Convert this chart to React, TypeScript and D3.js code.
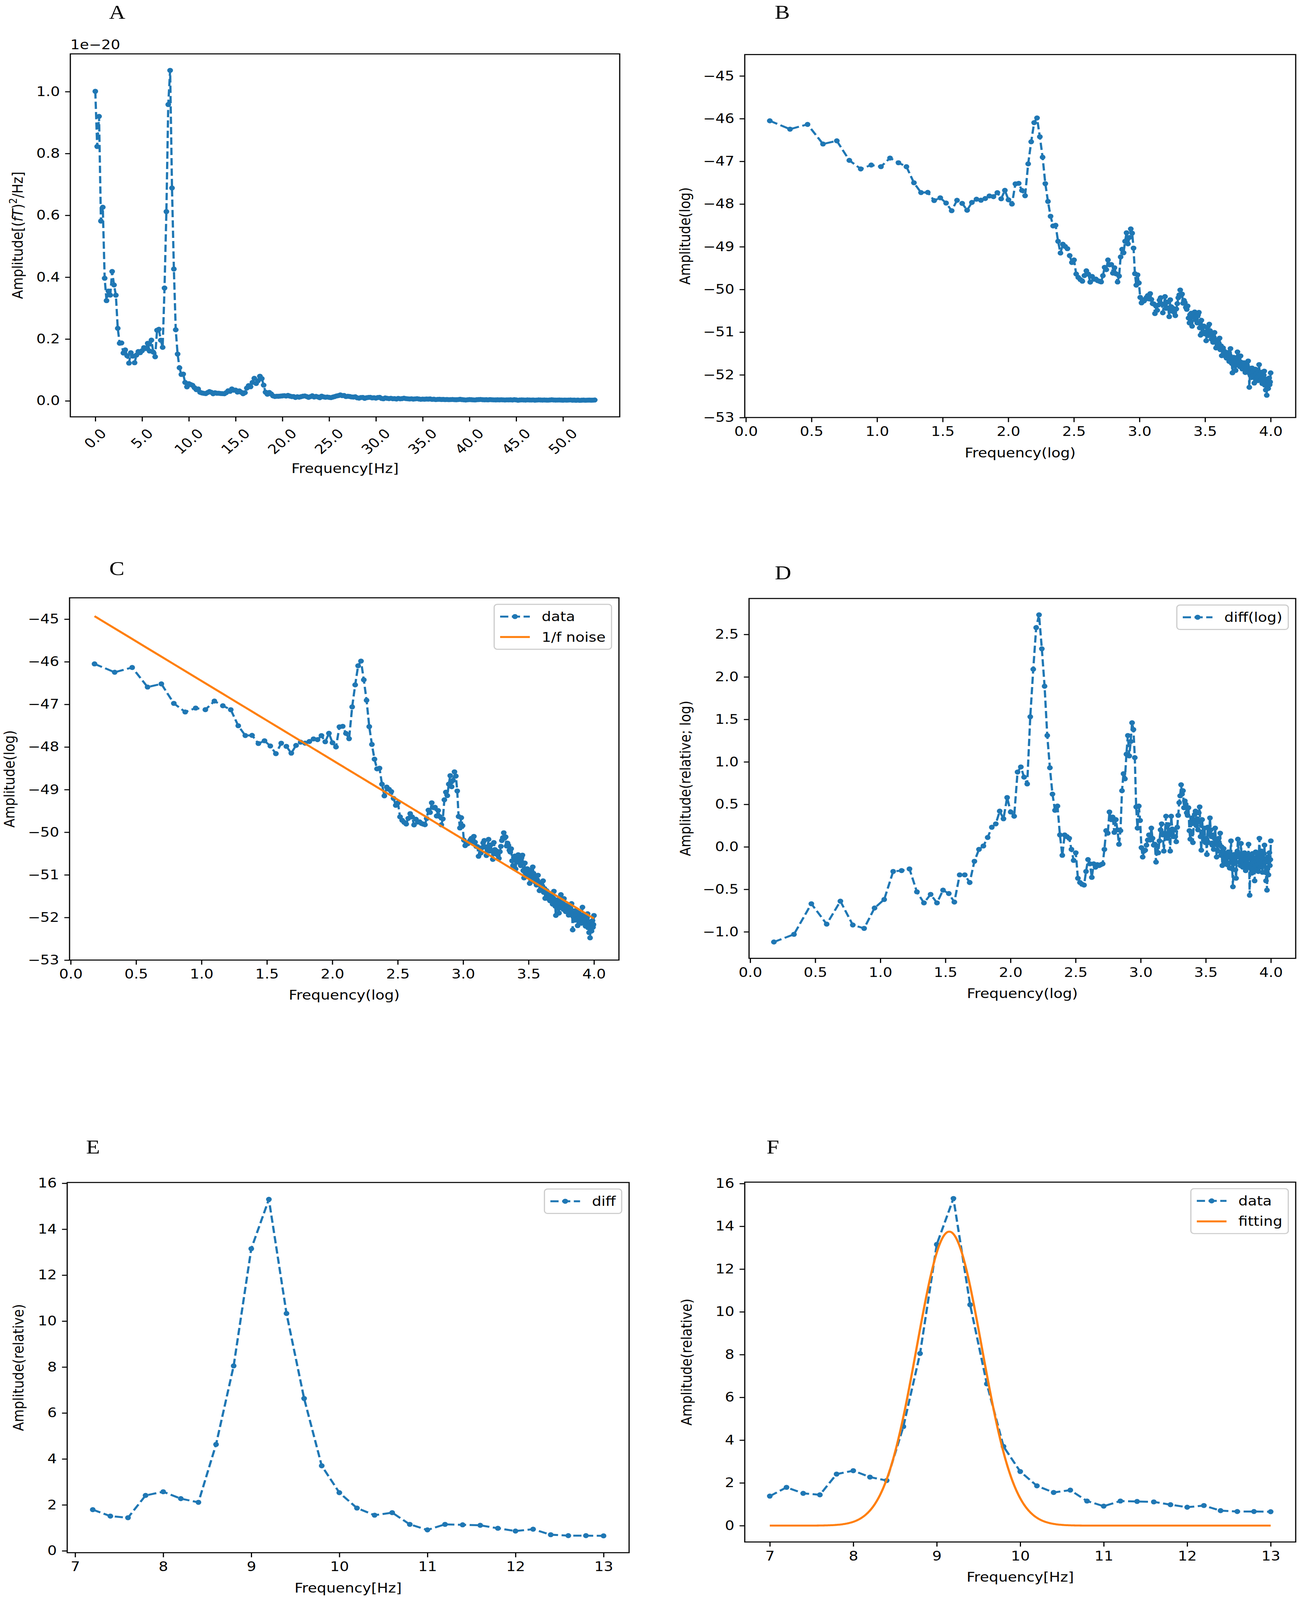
import * as React from "react";
import * as d3 from "d3";

const BLUE = "#1f77b4";
const ORANGE = "#ff7f0e";
const FONT = "'DejaVu Sans', sans-serif";
const FS = 38;
const TICK_LEN = 13.3;
const TICK_PAD = 13.3;
const LINE_W = 5.7;
const MARK_R = 7.3;
const DASH = "21,9";
const W = 3327;
const H = 4633;

// spectrum bins: 0.2 Hz apart, first bin at 1.2 Hz
const FREQ_START = 1.2;
const FREQ_STEP = 0.2;

// panel D: log spectrum minus the 1/f fit, one value per bin (1.2 .. 54.6 Hz)
const diffLog = [
  -1.12, -1.03, -0.67, -0.91, -0.64, -0.92, -0.96, -0.72, -0.62, -0.29,
  -0.28, -0.26, -0.53, -0.66, -0.56, -0.66, -0.51, -0.55, -0.65, -0.33,
  -0.33, -0.42, -0.17, -0.03, 0.01, 0.11, 0.23, 0.27, 0.42, 0.33,
  0.58, 0.41, 0.36, 0.88, 0.94, 0.82, 0.74, 1.53, 2.09, 2.58,
  2.73, 2.33, 1.89, 1.31, 0.93, 0.62, 0.43, 0.48, 0.14, -0.1,
  0.14, 0.12, 0.1, -0.03, -0.16, -0.07, -0.37, -0.42, -0.44, -0.45,
  -0.29, -0.15, -0.2, -0.36, -0.2, -0.24, -0.21, -0.22, -0.21, -0.2,
  -0.03, 0.19, 0.16, 0.41, 0.32, 0.35, 0.17, 0.32, 0.2, 0.03,
  0.19, 0.66, 0.86, 0.8, 1.09, 1.31, 1.07, 1.24, 1.46, 1.38,
  1.05, 0.47, 0.22, 0.48, 0.31, -0.01, -0.12, -0.05, -0.04, 0.02,
  0.08, 0.14, 0.08, 0.22, 0.1, 0.02, 0.03, -0.18, 0.01, -0.07,
  0.07, 0.2, 0.27, 0.14, -0.05, 0.16, 0.36, 0.1, 0.26, 0.14,
  -0.05, 0.36, 0.21, 0.12, 0.2, 0.12, 0.06, 0.23, 0.37, 0.52,
  0.6, 0.73, 0.62, 0.66, 0.46, 0.54, 0.5, 0.4, 0.37, 0.46,
  0.19, 0.09, 0.3, 0.34, 0.05, 0.28, 0.38, 0.42, 0.25, 0.33,
  0.2, 0.4, 0.47, 0.12, -0.04, 0.32, 0.18, 0.08, 0.22, 0.05,
  0.1, -0.09, 0.23, 0.05, 0.15, 0.34, 0.2, 0.12, 0.02, 0.14,
  -0.03, 0.1, 0.22, 0.06, -0.12, 0.02, -0.05, 0.1, 0.03, 0.16,
  -0.1, 0.0, -0.22, -0.05, -0.02, -0.15, -0.08, -0.18, -0.1, -0.21,
  -0.12, -0.06, -0.19, -0.25, -0.1, 0.07, -0.14, -0.26, -0.47, -0.2,
  -0.09, -0.16, -0.27, -0.37, -0.12, -0.05, 0.09, -0.08, -0.18, -0.11,
  -0.22, 0.04, -0.1, -0.17, -0.24, -0.13, -0.21, -0.07, -0.15, -0.28,
  -0.12, -0.19, -0.09, -0.23, 0.03, -0.14, -0.57, -0.25, -0.11, -0.2,
  -0.31, -0.08, -0.18, -0.26, -0.13, -0.4, -0.22, -0.06, -0.17, -0.27,
  -0.14, -0.21, -0.29, -0.09, 0.1, -0.12, -0.24, -0.16, -0.05, -0.2,
  -0.3, -0.13, -0.22, -0.08, 0.02, -0.3, -0.18, -0.4, -0.14, -0.51,
  -0.26, -0.12, -0.33, -0.17, -0.07, -0.22, -0.15, 0.07,
];

// 1/f noise line in log-log space: intercept + slope * ln f
const NOISE_INTERCEPT = -44.592;
const NOISE_SLOPE = -1.858;

// panels E/F: relative amplitude around the alpha peak
const peakFreq = [
  7.0, 7.2, 7.4, 7.6, 7.8, 8.0, 8.2, 8.4, 8.6, 8.8, 9.0, 9.2, 9.4, 9.6, 9.8, 10.0,
  10.2, 10.4, 10.6, 10.8, 11.0, 11.2, 11.4, 11.6, 11.8, 12.0, 12.2, 12.4, 12.6, 12.8, 13.0,
];
const peakDiff = [
  1.38, 1.79, 1.51, 1.44, 2.41, 2.57, 2.27, 2.11, 4.63, 8.05, 13.15, 15.3, 10.33, 6.63, 3.7, 2.53,
  1.86, 1.55, 1.66, 1.15, 0.91, 1.15, 1.13, 1.11, 0.98, 0.86, 0.94, 0.7, 0.66, 0.66, 0.65,
];

// gaussian fit of panel F
const FIT_AMP = 13.75;
const FIT_MU = 9.15;
const FIT_SIGMA = 0.39;

// tick values
const ampTicks = [0, 0.2, 0.4, 0.6, 0.8, 1.0];
const hzTicksA = [0, 5, 10, 15, 20, 25, 30, 35, 40, 45, 50];
const logFreqTicks = [0, 0.5, 1, 1.5, 2, 2.5, 3, 3.5, 4];
const logAmpTicks = [-53, -52, -51, -50, -49, -48, -47, -46, -45];
const diffLogTicks = [-1, -0.5, 0, 0.5, 1, 1.5, 2, 2.5];
const peakHzTicks = [7, 8, 9, 10, 11, 12, 13];
const relTicks = [0, 2, 4, 6, 8, 10, 12, 14, 16];

// derived series
const spectrumFreq = diffLog.map((_, i) => Math.round((FREQ_START + i * FREQ_STEP) * 10) / 10);
const logFreq = spectrumFreq.map((f) => Math.log(f));
const noiseLog = logFreq.map((v) => NOISE_INTERCEPT + NOISE_SLOPE * v);
const logAmp = diffLog.map((d, i) => d + noiseLog[i]);
const ampScaled = logAmp.map((v) => Math.exp(v + 20 * Math.LN10)); // in units of 1e-20
const ampX = spectrumFreq.map((f) => Math.round((f - FREQ_START) * 10) / 10);
const fitX = d3.range(0, 601).map((i) => 7 + i * 0.01);
const fitY = fitX.map((v) => FIT_AMP * Math.exp(-((v - FIT_MU) ** 2) / (2 * FIT_SIGMA ** 2)));

const pad = (ext: number[], m = 0.05) => {
  const r = ext[1] - ext[0];
  return [ext[0] - r * m, ext[1] + r * m];
};

const f1 = d3.format(".1f");
const f0 = d3.format("d");

const dataSeries = (xs, ys, label?) => ({ xs, ys, color: BLUE, dashed: true, marker: true, label });

const panels = [
  {
    letter: "A", lx: 300, ly: 54,
    left: 180, right: 1586, top: 156, bottom: 1207,
    xDomain: pad(d3.extent(ampX) as number[]), yDomain: pad(d3.extent(ampScaled) as number[]),
    xTicks: hzTicksA, xFmt: f1, yTicks: ampTicks, yFmt: f1, rotateX: true,
    xLabel: "Frequency[Hz]", xLabelY: 1370, yLabel: "amp", yLabelX: 58,
    offsetText: "1e\u221220",
    series: [dataSeries(ampX, ampScaled)], legend: false,
  },
  {
    letter: "B", lx: 2002, ly: 54,
    left: 1906, right: 3316, top: 158, bottom: 1209,
    xDomain: pad(d3.extent(logFreq) as number[]), yDomain: [-53, -44.5],
    xTicks: logFreqTicks, xFmt: f1, yTicks: logAmpTicks, yFmt: f0,
    xLabel: "Frequency(log)", xLabelY: 1325, yLabel: "Amplitude(log)", yLabelX: 1766,
    series: [dataSeries(logFreq, logAmp)], legend: false,
  },
  {
    letter: "C", lx: 299, ly: 1665,
    left: 178, right: 1584, top: 1731, bottom: 2780,
    xDomain: pad(d3.extent(logFreq) as number[]), yDomain: [-53, -44.5],
    xTicks: logFreqTicks, xFmt: f1, yTicks: logAmpTicks, yFmt: f0,
    xLabel: "Frequency(log)", xLabelY: 2895, yLabel: "Amplitude(log)", yLabelX: 37,
    series: [
      dataSeries(logFreq, logAmp, "data"),
      { xs: logFreq, ys: noiseLog, color: ORANGE, dashed: false, marker: false, label: "1/f noise" },
    ],
    legend: true,
  },
  {
    letter: "D", lx: 2004, ly: 1677,
    left: 1917, right: 3316, top: 1733, bottom: 2775,
    xDomain: pad(d3.extent(logFreq) as number[]), yDomain: pad(d3.extent(diffLog) as number[]),
    xTicks: logFreqTicks, xFmt: f1, yTicks: diffLogTicks, yFmt: f1,
    xLabel: "Frequency(log)", xLabelY: 2890, yLabel: "Amplitude(relative; log)", yLabelX: 1767,
    series: [dataSeries(logFreq, diffLog, "diff(log)")], legend: true,
  },
  {
    letter: "E", lx: 238, ly: 3340,
    left: 172, right: 1610, top: 3424, bottom: 4496,
    xDomain: pad([peakFreq[1], peakFreq[peakFreq.length - 1]]),
    yDomain: pad(d3.extent(peakDiff.slice(1)) as number[]),
    xTicks: peakHzTicks, xFmt: f0, yTicks: relTicks, yFmt: f0,
    xLabel: "Frequency[Hz]", xLabelY: 4611, yLabel: "Amplitude(relative)", yLabelX: 60,
    series: [dataSeries(peakFreq.slice(1), peakDiff.slice(1), "diff")], legend: true,
  },
  {
    letter: "F", lx: 1978, ly: 3340,
    left: 1906, right: 3316, top: 3423, bottom: 4465,
    xDomain: pad(d3.extent(peakFreq) as number[]),
    yDomain: pad([Math.min(d3.min(peakDiff), d3.min(fitY)), Math.max(d3.max(peakDiff), d3.max(fitY))]),
    xTicks: peakHzTicks, xFmt: f0, yTicks: relTicks, yFmt: f0,
    xLabel: "Frequency[Hz]", xLabelY: 4580, yLabel: "Amplitude(relative)", yLabelX: 1770,
    series: [
      dataSeries(peakFreq, peakDiff, "data"),
      { xs: fitX, ys: fitY, color: ORANGE, dashed: false, marker: false, label: "fitting" },
    ],
    legend: true,
  },
];

function styleAxis(ax) {
  ax.select(".domain").remove();
  ax.attr("font-size", FS).attr("font-family", FONT);
  ax.selectAll(".tick line").attr("stroke-width", 3).attr("stroke", "#000");
  ax.selectAll(".tick text").attr("fill", "#000");
}

function drawPanel(svg, p) {
  const x = d3.scaleLinear().domain(p.xDomain).range([p.left, p.right]);
  const y = d3.scaleLinear().domain(p.yDomain).range([p.bottom, p.top]);
  const g = svg.append("g");

  const clipId = `clip${p.letter}`;
  g.append("clipPath").attr("id", clipId).append("rect")
    .attr("x", p.left).attr("y", p.top)
    .attr("width", p.right - p.left).attr("height", p.bottom - p.top);
  const plot = g.append("g").attr("clip-path", `url(#${clipId})`);

  for (const s of p.series) {
    const pts = s.xs.map((v, i) => [v, s.ys[i]]);
    plot.append("path")
      .attr("d", d3.line().x((d) => x(d[0])).y((d) => y(d[1]))(pts))
      .attr("fill", "none")
      .attr("stroke", s.color)
      .attr("stroke-width", LINE_W)
      .attr("stroke-linejoin", "round")
      .attr("stroke-dasharray", s.dashed ? DASH : null);
    if (s.marker) {
      plot.append("g").selectAll("circle").data(pts).join("circle")
        .attr("cx", (d) => x(d[0])).attr("cy", (d) => y(d[1]))
        .attr("r", MARK_R).attr("fill", s.color);
    }
  }

  // frame
  g.append("rect")
    .attr("x", p.left).attr("y", p.top)
    .attr("width", p.right - p.left).attr("height", p.bottom - p.top)
    .attr("fill", "none").attr("stroke", "#000").attr("stroke-width", 3);

  const xAxis = g.append("g").attr("transform", `translate(0,${p.bottom})`)
    .call(d3.axisBottom(x).tickValues(p.xTicks).tickFormat(p.xFmt).tickSize(TICK_LEN).tickPadding(TICK_PAD));
  styleAxis(xAxis);
  if (p.rotateX) {
    xAxis.selectAll(".tick text").each(function () {
      const w = this.getComputedTextLength();
      const h = (w + 44) * Math.SQRT1_2;
      d3.select(this)
        .attr("y", null).attr("dy", "0.32em").attr("text-anchor", "middle")
        .attr("transform", `translate(0,${TICK_LEN + TICK_PAD + h / 2}) rotate(-45)`);
    });
  }

  const yAxis = g.append("g").attr("transform", `translate(${p.left},0)`)
    .call(d3.axisLeft(y).tickValues(p.yTicks).tickFormat(p.yFmt).tickSize(TICK_LEN).tickPadding(TICK_PAD));
  styleAxis(yAxis);

  // axis labels
  g.append("text")
    .attr("x", (p.left + p.right) / 2).attr("y", p.xLabelY)
    .attr("text-anchor", "middle").attr("font-family", FONT).attr("font-size", FS)
    .text(p.xLabel);

  const yl = g.append("text")
    .attr("transform", `translate(${p.yLabelX},${(p.top + p.bottom) / 2}) rotate(-90)`)
    .attr("text-anchor", "middle").attr("font-family", FONT).attr("font-size", FS);
  if (p.yLabel === "amp") {
    yl.append("tspan").text("Amplitude[(");
    yl.append("tspan").attr("font-style", "italic").text("fT");
    yl.append("tspan").text(")");
    yl.append("tspan").attr("font-size", FS * 0.7).attr("dy", -15).text("2");
    yl.append("tspan").attr("dy", 15).text("/Hz]");
  } else {
    yl.text(p.yLabel);
  }

  if (p.offsetText) {
    g.append("text").attr("x", p.left).attr("y", p.top - 14)
      .attr("font-family", FONT).attr("font-size", FS).text(p.offsetText);
  }

  // panel letter
  g.append("text").attr("x", p.lx).attr("y", p.ly)
    .attr("text-anchor", "middle").attr("font-family", "'Liberation Serif', serif").attr("font-size", 58)
    .text(p.letter);

  if (p.legend) {
    const items = p.series.filter((s) => s.label);
    const bp = 0.4 * FS, hl = 2 * FS, hp = 0.8 * FS, rowH = 40.3, ls = 0.5 * FS, ap = 0.5 * FS;
    const lg = g.append("g");
    const box = lg.append("rect");
    const texts = items.map((s) =>
      lg.append("text").attr("font-family", FONT).attr("font-size", FS).attr("dominant-baseline", "central").text(s.label)
    );
    const tw = d3.max(texts, (t) => t.node().getComputedTextLength());
    const w = 2 * bp + hl + hp + tw;
    const h = 2 * bp + items.length * rowH + (items.length - 1) * ls;
    const x0 = p.right - ap - w;
    const y0 = p.top + ap;
    box.attr("x", x0).attr("y", y0).attr("width", w).attr("height", h).attr("rx", 8)
      .attr("fill", "#fff").attr("fill-opacity", 0.8).attr("stroke", "#cccccc").attr("stroke-width", 3);
    items.forEach((s, i) => {
      const cy = y0 + bp + rowH / 2 + i * (rowH + ls);
      lg.append("line")
        .attr("x1", x0 + bp).attr("x2", x0 + bp + hl).attr("y1", cy).attr("y2", cy)
        .attr("stroke", s.color).attr("stroke-width", LINE_W)
        .attr("stroke-dasharray", s.dashed ? DASH : null);
      if (s.marker) {
        lg.append("circle").attr("cx", x0 + bp + hl / 2).attr("cy", cy).attr("r", MARK_R).attr("fill", s.color);
      }
      texts[i].attr("x", x0 + bp + hl + hp).attr("y", cy);
    });
  }
}

export default function App() {
  const ref = React.useRef(null);
  // fit the whole figure into the visible page
  const [size] = React.useState(() => ({
    w: window.innerWidth || W,
    h: window.innerHeight || H,
  }));
  React.useEffect(() => {
    document.body.style.margin = "0";
    document.body.style.overflow = "hidden";
    const svg = d3.select(ref.current);
    svg.selectAll("*").remove();
    svg.append("rect").attr("width", W).attr("height", H).attr("fill", "#fff");
    panels.forEach((p) => drawPanel(svg, p));
  }, []);
  return (
    <svg
      ref={ref}
      width={Math.min(size.w, W)}
      height={Math.min(size.h, H)}
      viewBox={`0 0 ${W} ${H}`}
      preserveAspectRatio="none"
      style={{ position: "absolute", left: 0, top: 0, background: "#fff" }}
    />
  );
}
